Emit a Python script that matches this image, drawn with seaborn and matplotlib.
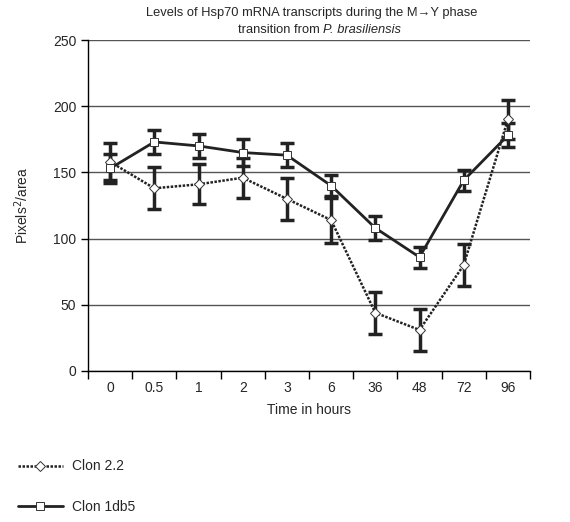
import numpy as np
import pandas as pd
import matplotlib
matplotlib.use("Agg")
import matplotlib.pyplot as plt
import seaborn as sns

# --- Data ---
hours = ["0", "0.5", "1", "2", "3", "6", "36", "48", "72", "96"]
clon22 = [158, 138, 141, 146, 130, 114, 44, 31, 80, 190]
clon22_err = [14, 16, 15, 15, 16, 17, 16, 16, 16, 15]
clon1db5 = [153, 173, 170, 165, 163, 140, 108, 86, 144, 178]
clon1db5_err = [11, 9, 9, 10, 9, 8, 9, 8, 8, 9]

df = pd.DataFrame({
    "hours": hours * 2,
    "value": clon22 + clon1db5,
    "clone": ["Clon 2.2"] * len(hours) + ["Clon 1db5"] * len(hours),
})

sns.set_style("white")
plt.rcParams["font.family"] = ["Liberation Sans", "DejaVu Sans"]

fig = plt.figure(figsize=(5.7, 5.22), dpi=100)
ax = fig.add_axes([88 / 570, 1 - 371 / 522, 442 / 570, 331 / 522])

# gridlines behind
ax.set_axisbelow(True)
ax.yaxis.grid(True, color="#555555", linewidth=1)

pos = np.arange(len(hours))
ax.errorbar(pos, clon22, yerr=clon22_err, fmt="none", ecolor="#222222",
            elinewidth=2.5, capsize=5, capthick=2.5, zorder=3)
ax.errorbar(pos, clon1db5, yerr=clon1db5_err, fmt="none", ecolor="#222222",
            elinewidth=2.5, capsize=5, capthick=2.5, zorder=3)

sns.lineplot(data=df[df.clone == "Clon 2.2"], x="hours", y="value", ax=ax,
             color="#222222", linewidth=1.8, linestyle=(0, (1, 0.6)),
             marker="D", markersize=5, markerfacecolor="white",
             markeredgecolor="#333333", markeredgewidth=0.7,
             label="Clon 2.2", zorder=4, sort=False)
sns.lineplot(data=df[df.clone == "Clon 1db5"], x="hours", y="value", ax=ax,
             color="#222222", linewidth=2, linestyle="-",
             marker="s", markersize=6, markerfacecolor="white",
             markeredgecolor="#333333", markeredgewidth=0.7,
             label="Clon 1db5", zorder=4, sort=False)

ax.set_xlim(-0.5, len(hours) - 0.5)
ax.set_ylim(0, 250)
ax.set_yticks([0, 50, 100, 150, 200, 250])
ax.set_xticks(pos)
ax.set_xticklabels(hours)
ax.set_xticks(np.arange(-0.5, len(hours)), minor=True)
ax.tick_params(axis="x", which="major", length=0, pad=7, labelsize=10)
ax.tick_params(axis="x", which="minor", length=6, width=1, color="black",
               direction="out", bottom=True)
ax.tick_params(axis="y", length=5, width=1, color="black", direction="out",
               left=True, labelsize=10)

for s in ["top", "right"]:
    ax.spines[s].set_visible(False)
for s in ["left", "bottom"]:
    ax.spines[s].set_color("black")
    ax.spines[s].set_linewidth(1)

ax.set_xlabel("Time in hours", fontsize=10, labelpad=6)
ax.set_ylabel("Pixels$^2$/area", fontsize=10, labelpad=16)

fig.text(312 / 570, 1 - 13 / 522,
         "Levels of Hsp70 mRNA transcripts during the M\u2192Y phase",
         ha="center", va="center", fontsize=9.3)
fig.text(323 / 570, 1 - 30 / 522, "transition from ",
         ha="right", va="center", fontsize=9.3)
fig.text(323 / 570, 1 - 30 / 522, "P. brasiliensis",
         ha="left", va="center", fontsize=9.3, style="italic")

handles, labels = ax.get_legend_handles_labels()
ax.legend_.remove()
fig.legend(handles, labels, loc="upper left",
           bbox_to_anchor=(5 / 570, 1 - 447 / 522), frameon=False,
           handlelength=3.3, labelspacing=1.9, fontsize=10, handletextpad=0.6)

fig.savefig("out.png", dpi=100)
